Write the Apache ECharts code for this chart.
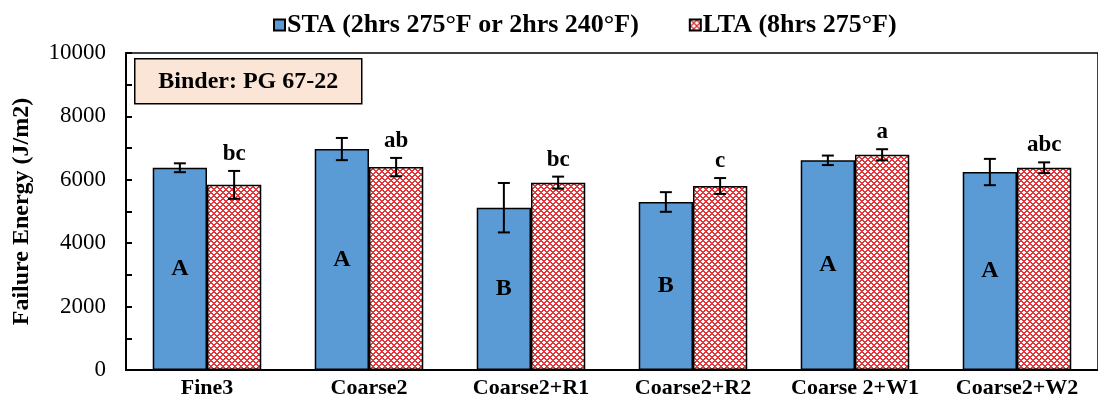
<!DOCTYPE html>
<html>
<head>
<meta charset="utf-8">
<script src="https://cdn.jsdelivr.net/npm/echarts@6/dist/echarts.min.js"></script>
<style>
html,body{margin:0;padding:0;background:#fff;}
#c{width:1098px;height:410px;}
</style>
</head>
<body>
<div id="c"></div>
<script>
var categories = ['Fine3', 'Coarse2', 'Coarse2+R1', 'Coarse2+R2', 'Coarse 2+W1', 'Coarse2+W2'];
var staValues = [6380, 6970, 5120, 5300, 6615, 6245];
var staErrors = [140, 350, 780, 310, 150, 415];
var ltaValues = [5840, 6400, 5910, 5805, 6790, 6380];
var ltaErrors = [440, 290, 190, 250, 175, 170];
var staLetters = ['A', 'A', 'B', 'B', 'A', 'A'];
var ltaLetters = ['bc', 'ab', 'bc', 'c', 'a', 'abc'];
var yTicks = [0, 2000, 4000, 6000, 8000, 10000];

var FONT = '"Liberation Serif", "Times New Roman", serif';

// pattern tile for LTA
function makePattern() {
  var s = 6;
  var cv = document.createElement('canvas');
  cv.width = s; cv.height = s;
  var ctx = cv.getContext('2d');
  ctx.fillStyle = '#ffffff';
  ctx.fillRect(0, 0, s, s);
  ctx.fillStyle = '#e0383a';
  for (var x = 0; x < s; x++) {
    for (var y = 0; y < s; y++) {
      var a = (x + y) % s, b = (x - y + s) % s;
      if (a === 0 || a === 1 || b === 0 || b === 1) ctx.fillRect(x, y, 1, 1);
    }
  }
  return cv;
}
var pattern = { image: makePattern(), repeat: 'repeat' };

var chart = echarts.init(document.getElementById('c'), null, { renderer: 'canvas' });

function errData(vals, errs) {
  return vals.map(function (v, i) { return [i, v, errs[i]]; });
}

function errRender(side, letters) {
  return function (params, api) {
    var i = api.value(0), v = api.value(1), e = api.value(2);
    var cw = api.size([1, 0])[0];
    var off = side * cw * 0.1675;
    var top = api.coord([i, v + e]);
    var bot = api.coord([i, v - e]);
    var x = top[0] + off;
    var cap = 6;
    var children = [
      { type: 'line', shape: { x1: x, y1: top[1], x2: x, y2: bot[1] }, style: { stroke: '#000', lineWidth: 2 } },
      { type: 'line', shape: { x1: x - cap, y1: top[1], x2: x + cap, y2: top[1] }, style: { stroke: '#000', lineWidth: 2 } },
      { type: 'line', shape: { x1: x - cap, y1: bot[1], x2: x + cap, y2: bot[1] }, style: { stroke: '#000', lineWidth: 2 } }
    ];
    if (letters) {
      children.push({
        type: 'text',
        style: {
          text: letters[params.dataIndex], x: x, y: top[1] - 17,
          align: 'center', verticalAlign: 'middle',
          fontFamily: FONT, fontWeight: 'bold', fontSize: 23, fill: '#000'
        }
      });
    }
    return { type: 'group', children: children };
  };
}

var option = {
  animation: false,
  backgroundColor: '#fff',
  textStyle: { fontFamily: FONT },
  legend: {
    top: 7,
    left: 268,
    itemWidth: 11,
    itemHeight: 11,
    itemGap: 50,
    icon: 'rect',
    textStyle: { fontFamily: FONT, fontWeight: 'bold', fontSize: 26, color: '#000', padding: [0, 0, 0, -3] },
    data: ['STA (2hrs 275°F or 2hrs 240°F)', 'LTA (8hrs 275°F)']
  },
  grid: {
    left: 126, top: 53, right: -6, bottom: 40,
    show: true, borderColor: '#000', borderWidth: 1.5, backgroundColor: 'transparent'
  },
  xAxis: {
    type: 'category',
    data: categories,
    axisLine: { lineStyle: { color: '#000', width: 2 } },
    axisTick: { show: false },
    axisLabel: { interval: 0, fontFamily: FONT, fontWeight: 'bold', fontSize: 22, color: '#000', margin: 7 }
  },
  yAxis: {
    type: 'value',
    min: 0, max: 10000, interval: 1000,
    name: 'Failure Energy (J/m2)',
    nameLocation: 'middle',
    nameGap: 92,
    nameTextStyle: { fontFamily: FONT, fontWeight: 'bold', fontSize: 24, color: '#000' },
    axisLine: { show: true, lineStyle: { color: '#000', width: 2 } },
    axisTick: { show: true, inside: true, length: 6, lineStyle: { color: '#000', width: 2 } },
    splitLine: { show: false },
    axisLabel: {
      fontFamily: FONT, fontSize: 23, color: '#000', margin: 20,
      formatter: function (v) { return yTicks.indexOf(v) >= 0 ? String(v) : ''; }
    }
  },
  graphic: [
    {
      type: 'group', left: 134, top: 58, z: 100,
      children: [
        { type: 'rect', shape: { x: 0, y: 0, width: 227, height: 45 }, style: { fill: '#FBE5D6', stroke: '#000', lineWidth: 1.5 } },
        { type: 'text', style: { text: 'Binder: PG 67-22', x: 113.5, y: 23, align: 'center', verticalAlign: 'middle', fontFamily: FONT, fontWeight: 'bold', fontSize: 24, fill: '#000' } }
      ]
    }
  ],
  series: [
    {
      name: 'STA (2hrs 275°F or 2hrs 240°F)',
      type: 'bar',
      data: staValues,
      barGap: '0%',
      barCategoryGap: '33%',
      itemStyle: { color: '#5B9BD5', borderColor: '#000', borderWidth: 1.5 },
      label: {
        show: true, position: 'inside',
        fontFamily: FONT, fontWeight: 'bold', fontSize: 24, color: '#000',
        formatter: function (p) { return staLetters[p.dataIndex]; }
      }
    },
    {
      name: 'LTA (8hrs 275°F)',
      type: 'bar',
      data: ltaValues,
      barGap: '0%',
      barCategoryGap: '33%',
      itemStyle: { color: pattern, borderColor: '#000', borderWidth: 1.5 }
    },
    {
      type: 'custom',
      renderItem: errRender(-1, null),
      data: errData(staValues, staErrors),
      z: 10,
      silent: true
    },
    {
      type: 'custom',
      renderItem: errRender(1, ltaLetters),
      data: errData(ltaValues, ltaErrors),
      z: 10,
      silent: true
    }
  ]
};
chart.setOption(option);
</script>
</body>
</html>
